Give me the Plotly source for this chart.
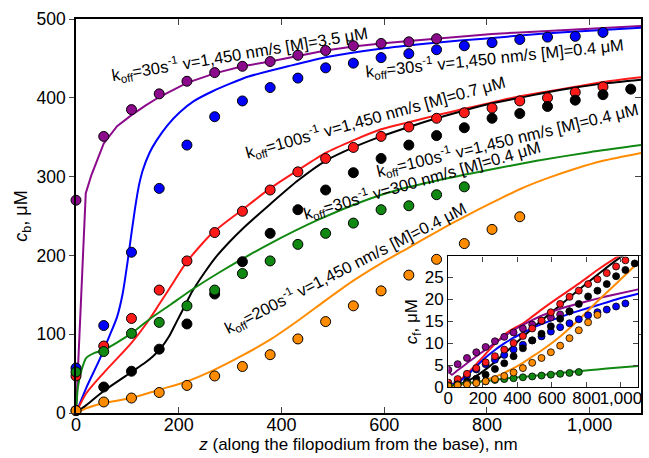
import plotly.graph_objects as go

# ---------------- data ----------------
z_pts = [0, 54, 108, 162, 216, 270, 324, 378, 432, 486, 540, 594, 648, 702, 756,
         810, 864, 918, 972, 1026, 1080]

# main plot: simulation points (c_b, uM)
purple_pts = [270, 351, 385, 405, 421, 432, 440, 446, 454, 460, 466, 469, 471, 475]
blue_pts = [57, 111, 204, 285, 340, 376, 396, 413, 425, 438, 444, 451, 456, 461, 466,
            470, 474, 477, 478, 483]
red_pts = [47, 85, 120, 156, 193, 229, 256, 283, 306, 323, 337, 351, 363, 374, 381,
           387, 396, 400, 407, 414]
black_pts = [3, 33, 53, 81, 113, 151, 192, 228, 258, 283, 305, 323, 340, 352, 362,
             374, 380, 389, 397, 404, 411]
green_pts = [52, 78, 101, 115, 136, 156, 177, 193, 214, 228, 241, 258, 263, 277, 287]
orange_pts = [3, 14, 19, 26, 35, 47, 59, 74, 94, 116, 136, 155, 175, 195, 215, 233, 249]

# main plot: model curves
purple_lz = [0, 10, 19, 30, 54, 80, 108, 135, 162, 216, 270, 324, 378, 432, 486, 540,
             594, 648, 702, 756, 810, 864, 918, 972, 1026, 1100]
purple_ly = [0, 150, 279, 302, 342, 364, 378, 390, 401, 419, 431, 440, 446, 453, 460,
             465, 469, 472, 475, 478, 481, 483, 485, 487, 489, 491]
blue_lz = [0, 20, 46, 66, 80, 91, 100, 108, 115, 122, 130, 143, 156, 178, 201, 230,
           265, 300, 336, 413, 491, 600, 700, 794, 900, 1000, 1100]
blue_ly = [0, 32, 68, 99, 122, 152, 190, 228, 260, 287, 308, 330, 345, 365, 381, 396,
           408, 418, 427, 440, 452, 463, 470, 475, 481, 485, 489]
red_lz = [0, 20, 54, 108, 143, 162, 182, 216, 265, 324, 378, 432, 486, 540, 594, 648,
          702, 756, 810, 864, 918, 972, 1026, 1100]
red_ly = [0, 25, 51, 89, 119, 138, 158, 192, 228, 258, 285, 308, 330, 346, 360, 369,
          378, 386, 394, 402, 408, 414, 420, 426]
black_lz = [0, 20, 54, 108, 135, 150, 166, 181, 196, 212, 227, 250, 270, 300, 323, 378,
            432, 486, 540, 594, 648, 702, 756, 810, 864, 918, 972, 1026, 1100]
black_ly = [0, 10, 28, 52, 64, 72, 83, 97, 116, 136, 155, 178, 196, 218, 233, 265,
            295, 320, 337, 351, 363, 374, 384, 393, 400, 407, 413, 418, 423]
green_lz = [0, 4, 11, 20, 35, 54, 108, 143, 185, 227, 278, 375, 471, 568, 626, 703,
            800, 897, 1000, 1100]
green_ly = [0, 34, 55, 70, 76, 80, 101, 119, 138, 157, 178, 214, 245, 271, 283, 295,
            308, 320, 331, 340]
orange_lz = [0, 20, 54, 108, 162, 216, 270, 324, 378, 432, 486, 540, 594, 648, 702,
             756, 810, 864, 918, 972, 1026, 1100]
orange_ly = [0, 6, 12.7, 19, 29.6, 40, 55, 73, 93, 117, 143, 168, 190, 210, 230, 249,
             267, 284, 298, 310, 320, 330]

# inset: simulation points (c_f, uM)
purple_in = [3.9, 5.2, 6.6, 7.9, 9.1, 10.4, 11.4, 12.4, 13.3, 14.2, 15.0, 15.8, 16.5, 17.2]
blue_in = [0.4, 1.2, 2.6, 4.0, 5.2, 6.2, 7.3, 8.5, 9.6, 10.6, 11.5, 12.6, 13.6, 14.5,
           15.4, 16.3, 17.0, 17.6, 18.3, 19.0]
red_in = [1.0, 1.8, 3.0, 4.3, 5.6, 7.0, 8.5, 10.0, 11.6, 13.3, 15.1, 17.0, 18.9, 20.5,
          21.9, 23.4, 24.5, 25.9, 27.4, 28.8]
black_in = [0.3, 0.6, 1.2, 1.9, 2.8, 4.1, 5.4, 7.0, 8.8, 10.6, 12.1, 13.8, 15.5, 17.2,
            18.9, 20.6, 21.9, 23.4, 25.2, 26.6, 28.1]
green_in = [0.3, 0.5, 0.8, 1.0, 1.3, 1.6, 1.8, 2.0, 2.2, 2.4, 2.6, 2.8, 3.0, 3.2, 3.4]
orange_in = [0.2, 0.4, 0.6, 0.9, 1.3, 1.8, 2.5, 3.3, 4.3, 5.5, 6.6, 7.9, 9.4, 11.1,
             12.9, 14.7, 16.4]

# inset: model curves
in_lz = [0, 20, 54, 108, 162, 216, 270, 324, 378, 432, 486, 540, 648, 756, 864, 972, 1100]
purple_in_l = [3.9, 2.8, 3.8, 5.4, 7.0, 8.5, 10.0, 11.5, 12.9, 14.1, 15.2, 16.2, 17.8,
               19.0, 20.1, 21.1, 22.2]
blue_in_l = [0.3, 0.6, 1.0, 2.6, 4.7, 6.7, 8.4, 9.9, 11.2, 12.3, 13.4, 14.3, 15.9, 17.3,
             18.6, 19.9, 21.2]
red_in_l = [0.3, 0.6, 1.2, 3.0, 5.2, 7.5, 9.8, 11.9, 13.3, 14.4, 16.0, 17.6, 20.6, 23.5,
            26.6, 29.4, 32.5]
black_in_l = [0.2, 0.3, 0.5, 1.3, 2.5, 4.0, 5.7, 7.6, 9.5, 11.4, 13.3, 15.1, 18.6, 22.1,
              25.5, 28.8, 32.0]
orange_in_l = [0.2, 0.3, 0.4, 0.7, 1.0, 1.6, 2.3, 3.2, 4.3, 5.5, 6.9, 8.3, 11.5, 15.3,
               19.5, 23.5, 28.3]
green_in_l = [0.3, 0.4, 0.6, 0.9, 1.1, 1.4, 1.6, 1.9, 2.1, 2.3, 2.5, 2.7, 3.2, 3.6, 4.0,
              4.4, 4.8]

x_ticks = [0, 200, 400, 600, 800, 1000]
x_ticklabels = ["0", "200", "400", "600", "800", "1,000"]
y_ticks = [0, 100, 200, 300, 400, 500]
yin_ticks = [0, 5, 10, 15, 20, 25]

labels = [
    "k<sub>off</sub>=30s<sup>-1</sup> v=1,450 nm/s [M]=3.5 μM",
    "k<sub>off</sub>=30s<sup>-1</sup> v=1,450 nm/s [M]=0.4 μM",
    "k<sub>off</sub>=100s<sup>-1</sup> v=1,450 nm/s [M]=0.7 μM",
    "k<sub>off</sub>=100s<sup>-1</sup> v=1,450 nm/s [M]=0.4 μM",
    "k<sub>off</sub>=30s<sup>-1</sup> v=300 nm/s [M]=0.4 μM",
    "k<sub>off</sub>=200s<sup>-1</sup> v=1,450 nm/s [M]=0.4 μM",
]
label_x = [319, 815, 584, 840, 674, 524]
label_y = [455, 450, 376, 347, 296, 184]
label_angle = [-9.5, -6, -15.5, -13.5, -16, -27]

C_PURPLE = "#8B0A8B"
C_BLUE = "#0000FF"
C_RED = "#FF1A1A"
C_BLACK = "#000000"
C_GREEN = "#118811"
C_ORANGE = "#FF8C00"

FONT = "Liberation Sans, Arial, sans-serif"

fig = go.Figure()

# ---- main lines ----
for zx, yy, c, shp in [(purple_lz, purple_ly, C_PURPLE, "linear"),
                       (blue_lz, blue_ly, C_BLUE, "spline"),
                       (red_lz, red_ly, C_RED, "spline"),
                       (black_lz, black_ly, C_BLACK, "spline"),
                       (green_lz, green_ly, C_GREEN, "spline"),
                       (orange_lz, orange_ly, C_ORANGE, "spline")]:
    fig.add_trace(go.Scatter(x=zx, y=yy, mode="lines",
                             line=dict(color=c, width=2, shape=shp, smoothing=0.7),
                             showlegend=False, hoverinfo="skip", xaxis="x", yaxis="y"))

# ---- main points ----
for yy, c in [(purple_pts, C_PURPLE), (blue_pts, C_BLUE), (red_pts, C_RED),
              (black_pts, C_BLACK), (green_pts, C_GREEN), (orange_pts, C_ORANGE)]:
    fig.add_trace(go.Scatter(x=z_pts[:len(yy)], y=yy, mode="markers",
                             marker=dict(color=c, size=10, line=dict(color="black", width=1)),
                             showlegend=False, xaxis="x", yaxis="y", cliponaxis=False))

# helper invisible trace for the right-side inner ticks
fig.add_trace(go.Scatter(x=[0], y=[0], mode="markers", marker=dict(opacity=0),
                         showlegend=False, hoverinfo="skip", xaxis="x", yaxis="y3"))

# ---- inset lines ----
for yy, c in [(red_in_l, C_RED), (black_in_l, C_BLACK), (purple_in_l, C_PURPLE),
              (blue_in_l, C_BLUE), (orange_in_l, C_ORANGE), (green_in_l, C_GREEN)]:
    fig.add_trace(go.Scatter(x=in_lz, y=yy, mode="lines",
                             line=dict(color=c, width=2, shape="spline", smoothing=0.7),
                             showlegend=False, hoverinfo="skip", xaxis="x2", yaxis="y2"))

# ---- inset points ----
for yy, c in [(purple_in, C_PURPLE), (blue_in, C_BLUE), (red_in, C_RED),
              (black_in, C_BLACK), (green_in, C_GREEN), (orange_in, C_ORANGE)]:
    fig.add_trace(go.Scatter(x=z_pts[:len(yy)], y=yy, mode="markers",
                             marker=dict(color=c, size=7, line=dict(color="black", width=0.8)),
                             showlegend=False, xaxis="x2", yaxis="y2"))

annotations = []
for t, ax_, ay_, ang in zip(labels, label_x, label_y, label_angle):
    annotations.append(dict(text=t, x=ax_, y=ay_, xref="x", yref="y", showarrow=False,
                            textangle=ang, font=dict(family=FONT, size=16.5, color="black")))

fig.update_layout(
    width=649, height=458,
    margin=dict(l=76, r=4, t=19, b=45),
    paper_bgcolor="white", plot_bgcolor="white",
    font=dict(family=FONT, color="black"),
    annotations=annotations,
    xaxis=dict(domain=[0, 1], range=[0, 1100], tickvals=x_ticks, ticktext=x_ticklabels,
               ticks="inside", ticklen=6, tickwidth=1.3, mirror="ticks", showline=True,
               linecolor="black", linewidth=1.5, showgrid=False, zeroline=False,
               tickfont=dict(size=18), tickangle=0, ticklabelstandoff=-5,
               title=dict(text="<i>z</i> (along the filopodium from the base), nm",
                          font=dict(size=17), standoff=0)),
    yaxis=dict(domain=[0, 1], range=[0, 500], tickvals=y_ticks, ticks="outside",
               ticklen=5, tickwidth=1.3, showline=True, mirror=True, linecolor="black",
               linewidth=1.5, showgrid=False, zeroline=False, tickfont=dict(size=17.5),
               title=dict(text="<i>c</i><sub>b</sub>, μM", font=dict(size=18), standoff=4)),
    yaxis3=dict(overlaying="y", side="right", anchor="x", range=[0, 500], tickvals=y_ticks,
                ticks="inside", ticklen=6, tickwidth=1.3, showticklabels=False,
                showline=False, showgrid=False, zeroline=False),
    xaxis2=dict(domain=[0.659, 0.995], anchor="y2", range=[0, 1100], tickvals=x_ticks,
                ticktext=x_ticklabels, ticks="inside", ticklen=5, tickwidth=1.2,
                mirror="ticks", showline=True, linecolor="black", linewidth=1.3,
                showgrid=False, zeroline=False, tickfont=dict(size=17), tickangle=0,
                ticklabelstandoff=-5),
    yaxis2=dict(domain=[0.066, 0.3975], anchor="x2", range=[0, 29.7], tickvals=yin_ticks,
                ticks="inside", ticklen=5, tickwidth=1.2, mirror="ticks", showline=True,
                linecolor="black", linewidth=1.3, showgrid=False, zeroline=False,
                tickfont=dict(size=17),
                title=dict(text="<i>c</i><sub>f</sub>, μM", font=dict(size=17), standoff=2)),
)

fig.write_html("out.html", config={"displayModeBar": False},
               post_script="document.body.style.margin='0';")
